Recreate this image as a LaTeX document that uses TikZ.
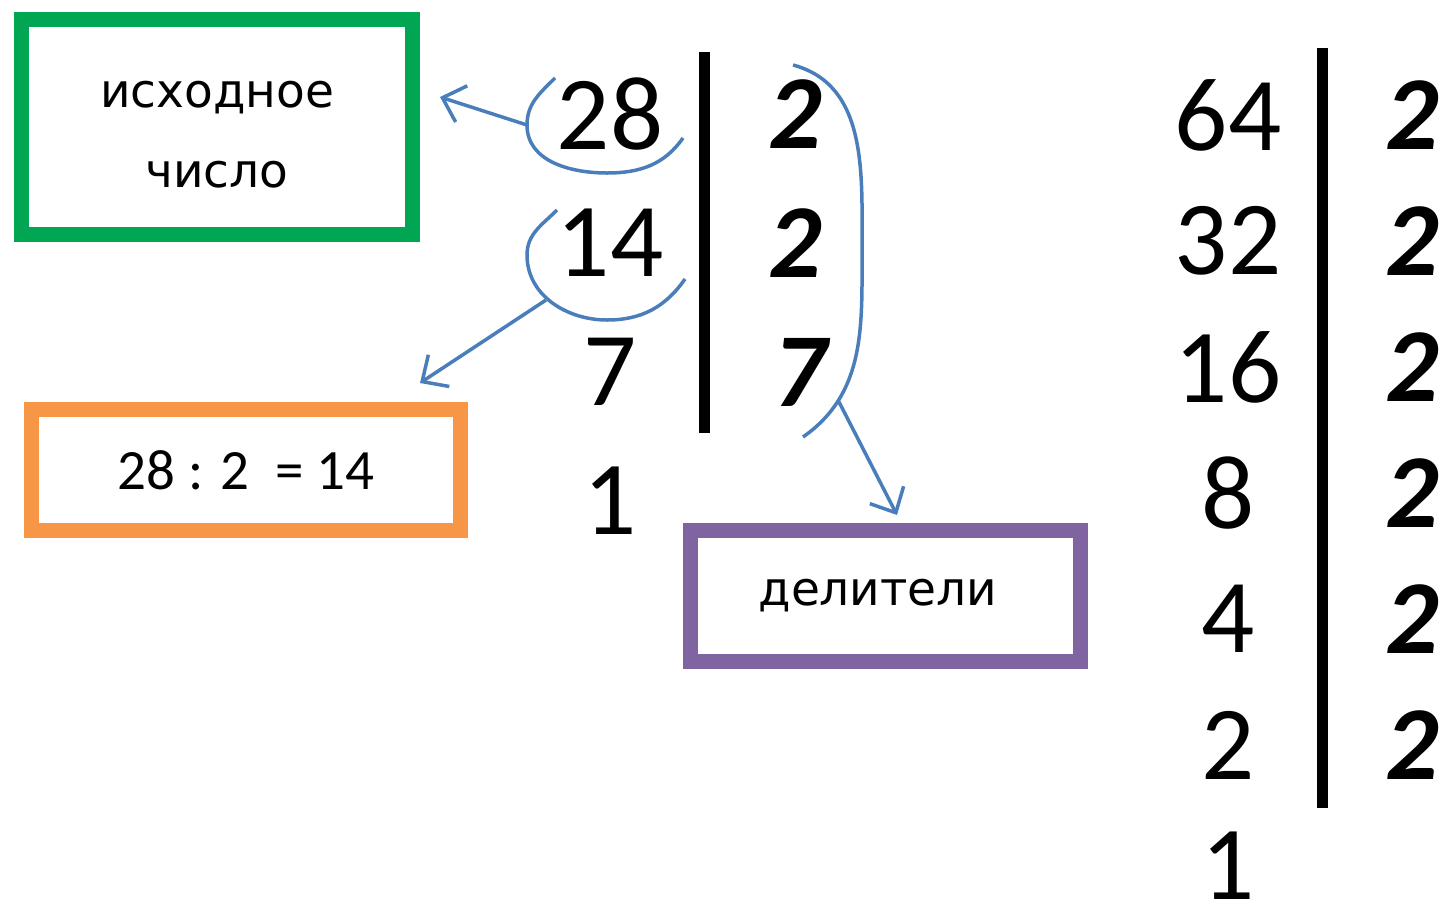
\documentclass[tikz,border=0pt]{standalone}
\usepackage{fontspec}
\setmainfont{Carlito}
\newfontfamily\labelfont{DejaVu Sans}
\usetikzlibrary{arrows.meta,positioning}

\definecolor{boxgreen}{RGB}{0,166,81}
\definecolor{boxorange}{RGB}{247,150,70}
\definecolor{boxpurple}{RGB}{128,100,162}
\definecolor{linkblue}{RGB}{74,126,187}

\begin{document}
\begin{tikzpicture}[x=1pt, y=-1pt, >={Straight Barb[length=20pt,width=38pt]},
	num/.style={inner sep=0pt, font=\fontsize{105}{105}\selectfont},
	divisor/.style={inner sep=0pt, font=\fontsize{105}{105}\selectfont\bfseries\itshape},
	vbar/.style={line width=11pt},
	box/.style={line width=15pt, inner sep=0pt, align=center},
	link/.style={linkblue, line width=3.5pt}]
	\useasboundingbox (0,0) rectangle (1439,911);

	% Boxes {source, step, divisors}
	\node [box, draw=boxgreen, minimum width=391pt, minimum height=215pt,
		font=\labelfont\fontsize{47}{80}\selectfont] (green) at (217,127) {\rule{0pt}{41pt}исходное\\число};
	\node [box, draw=boxorange, minimum width=429pt, minimum height=121pt,
		font=\fontsize{57}{57}\selectfont] (orange) at (246,470) {\raisebox{-5pt}{28 : 2 \ = 14}};
	\node [box, draw=boxpurple, minimum width=390pt, minimum height=131pt,
		font=\labelfont\fontsize{47}{47}\selectfont] (purple) at (885,596) {\raisebox{-6pt}{делители}\hspace*{14pt}};

	% Table 28 = 2 * 2 * 7
	\node [num] 	(n28) at (610,114) 					{28};
	\node [num] 	(n14) [below of=n28, node distance=129pt] {14};
	\node [num] 	(n7)  [below of=n14, node distance=129pt] {7};
	\node [num] 	(n1)  [below of=n7, node distance=129pt]  {1};
	\node [divisor] (d28) [right of=n28, node distance=185pt] {2};
	\node [divisor] (d14) [right of=n14, node distance=185pt] {2};
	\node [divisor] (d7)  [right of=n7, node distance=190pt]  {7};
	\draw [vbar] (704,52) -- (704,433);

	% Table 64 = 2^6
	\node [num] 	(m64) at (1228,115) 				{64};
	\node [num] 	(m32) [below of=m64, node distance=126pt] {32};
	\node [num] 	(m16) [below of=m32, node distance=126pt] {16};
	\node [num] 	(m8)  [below of=m16, node distance=126pt] {8};
	\node [num] 	(m4)  [below of=m8, node distance=126pt]  {4};
	\node [num] 	(m2)  [below of=m4, node distance=126pt]  {2};
	\node [num] 	(m1)  [below of=m2, node distance=121pt]  {1};
	\node [divisor] (e64) [right of=m64, node distance=184pt] {2};
	\node [divisor] (e32) [right of=m32, node distance=184pt] {2};
	\node [divisor] (e16) [right of=m16, node distance=184pt] {2};
	\node [divisor] (e8)  [right of=m8, node distance=184pt]  {2};
	\node [divisor] (e4)  [right of=m4, node distance=184pt]  {2};
	\node [divisor] (e2)  [right of=m2, node distance=184pt]  {2};
	\draw [vbar] (1322,48) -- (1322,808);

	% Arcs round 28, 14 and the divisors
	\draw [link] (555,78) to[out=225,in=90] (527,125) coordinate (a28)
		to[out=270,in=180] (607,173) to[out=0,in=235] (683,138);
	\draw [link] (557,210) to[out=225,in=90] (527,255)
		to[out=270,in=180] (607,320) to[out=0,in=235] (685,279);
	\draw [link] (793,65) to[out=-15,in=90] (862,250)
		to[out=270,in=35] (803,437);
	\coordinate (a14) at (546,300);
	\coordinate (a7)  at (838,400);

	% Paths {28 -> source, 14 -> step, divisors -> box}
	\path [->, link]	(a28) edge ([xshift=20pt,yshift=30pt]green.east)
				(a14) edge ([xshift=-48pt,yshift=19pt]orange.north east)
				(a7) edge ([xshift=12pt,yshift=8pt]purple.north);
\end{tikzpicture}
\end{document}
